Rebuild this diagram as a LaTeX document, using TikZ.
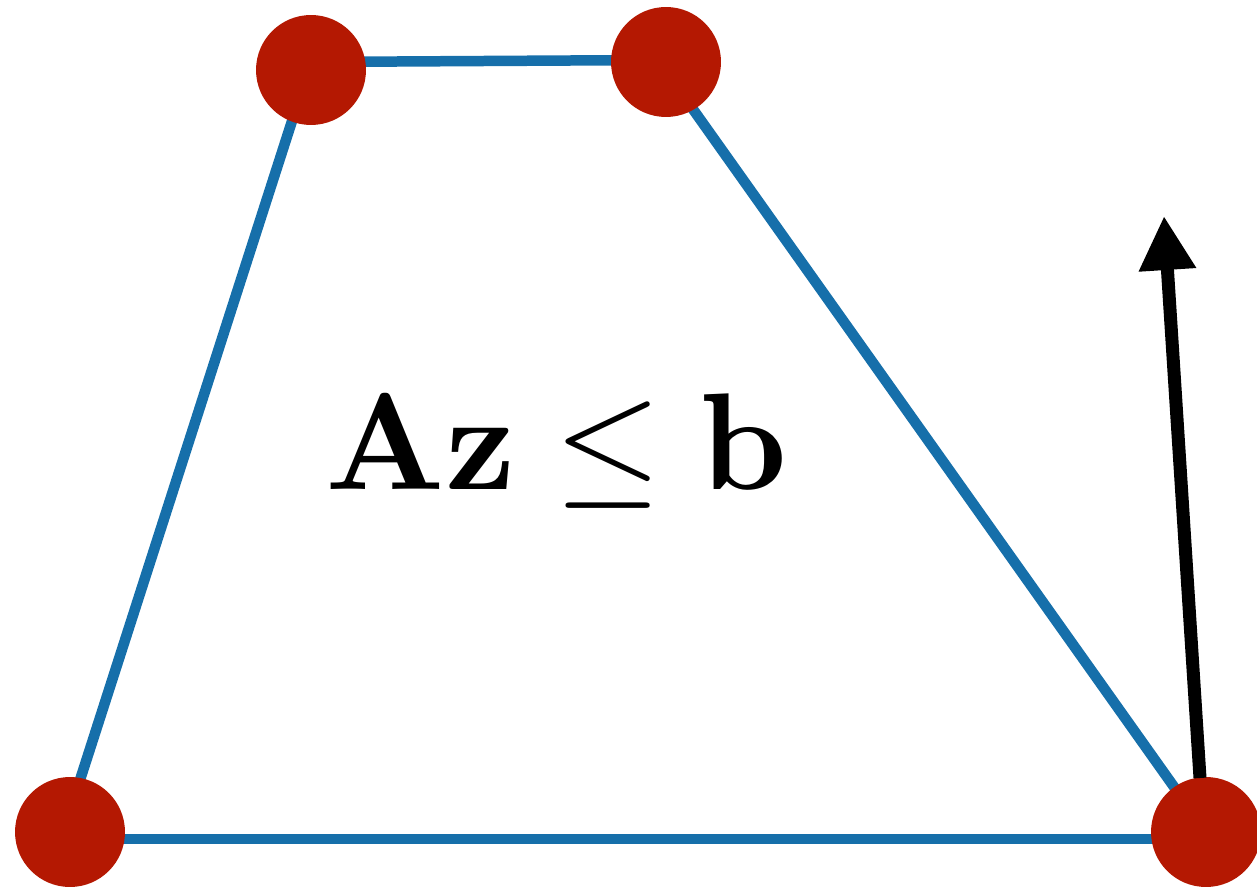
\documentclass[tikz,border=0pt]{standalone}
\usetikzlibrary{arrows.meta}
\definecolor{edgeblue}{RGB}{22,111,170}
\definecolor{vertred}{RGB}{180,24,2}
\tikzset{
  vert/.style={circle,fill=vertred,minimum size=2.2cm,inner sep=0pt},
  edge/.style={draw=edgeblue,line width=0.21cm,line join=miter},
  normalarrow/.style={line width=0.26cm,-{Triangle[width=1.08cm,length=1.08cm]}}
}
\begin{document}
\begin{tikzpicture}[x=0.02cm,y=-0.02cm]
\useasboundingbox (0,0) rectangle (1257,888);
\coordinate (ptl) at (311,62);
\coordinate (ptr) at (658,60);
\coordinate (pbr) at (1211,839);
\coordinate (pbl) at (61,839);
\draw[edge] (ptl) -- (ptr);
\draw[edge] (ptr) -- (pbr);
\draw[edge] (pbr) -- (pbl);
\draw[edge] (pbl) -- (ptl);
\node[vert] (tl) at (311,70) {};
\node[vert] (tr) at (666,62) {};
\node[vert] (bl) at (70,832) {};
\node[vert] (br) at (1206,832) {};
\coordinate (ns) at (1200,778);
\coordinate (ne) at (1164,216);
\draw[normalarrow] (ns) -- (ne);
\node[anchor=base west,inner sep=0pt] (lbl) at (325,489) {\normalsize\scalebox{7.85}{$\mathbf{Az}\leq\mathbf{b}$}};
\end{tikzpicture}
\end{document}
